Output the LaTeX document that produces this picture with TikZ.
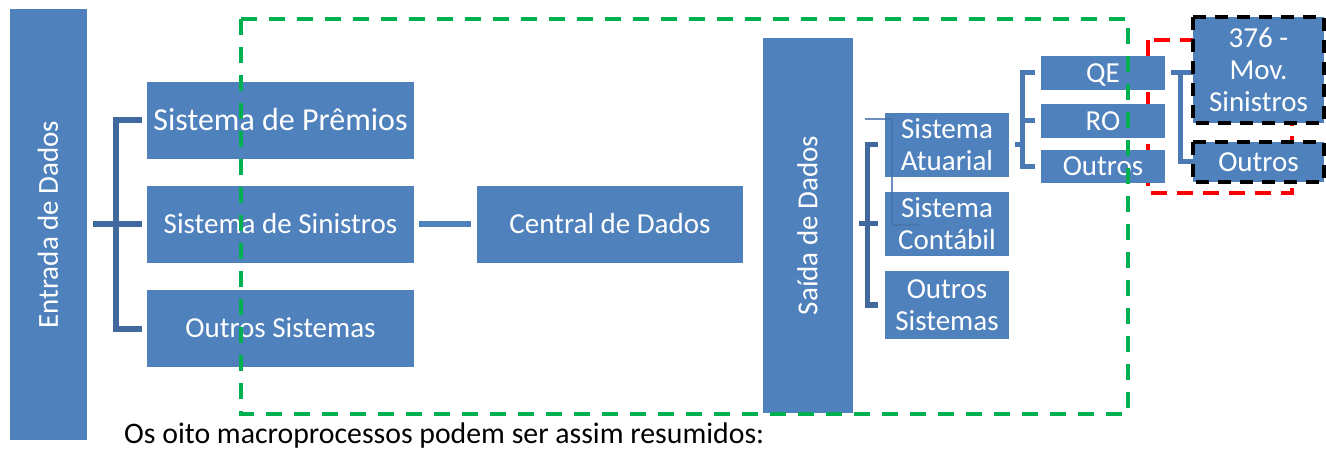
\documentclass[tikz,border=0pt]{standalone}
\usepackage{fontspec}
\setmainfont{Carlito}
\usetikzlibrary{calc}
\definecolor{boxblue}{HTML}{4F81BD}
\definecolor{brkdark}{HTML}{41699D}
\definecolor{brkmid}{HTML}{4A79B3}
\definecolor{grn}{HTML}{00B050}
\begin{document}
\begin{tikzpicture}[x=1pt,y=-1pt,
  box/.style={fill=boxblue, draw=none, text=white, inner sep=0pt, align=center,
    font=\fontsize{29}{32}\selectfont},
  one/.style={text height=18.7pt, text depth=0pt},
  brk/.style={draw=brkdark, line width=6pt},
  brkb/.style={draw=brkdark, line width=5pt},
  brkc/.style={draw=brkmid, line width=5pt},
  lnk/.style={draw=boxblue, line width=6pt},
  thinlnk/.style={draw=boxblue!90!black, line width=2pt, opacity=0.8},
  grndash/.style={draw=grn, line width=4pt, dash pattern=on 16pt off 12pt},
  reddash/.style={draw=red, line width=3.5pt, dash pattern=on 16pt off 10pt},
  blkdash/.style={draw=black, line width=4.5pt, dash pattern=on 13pt off 9pt}]
\useasboundingbox (0,0) rectangle (1326,449);

% red dashed frame (behind boxes)
\draw[reddash] (1148,40) rectangle (1292,193);

% boxes
\node[box, one, rotate=90, minimum width=431, minimum height=77] (entrada) at (48.5,224.5) {Entrada de Dados};
\node[box, minimum width=267, minimum height=77, font=\fontsize{32}{35}\selectfont, text height=20.6pt, text depth=0pt] (premios) at (280.5,120.5) {Sistema de Prêmios};
\node[box, one, minimum width=267, minimum height=77] (sinistros) at (280.5,224.5) {Sistema de Sinistros};
\node[box, one, minimum width=267, minimum height=77] (outros1) at (280.5,328.5) {Outros Sistemas};
\node[box, one, minimum width=266, minimum height=77] (central) at (610,224.5) {Central de Dados};
\node[box, one, rotate=90, minimum width=375, minimum height=90] (saida) at (808,225.5) {Saída de Dados};
\node[box, minimum width=124, minimum height=64] (atuarial) at (947,145) {Sistema\\Atuarial};
\node[box, minimum width=124, minimum height=64] (contabil) at (947,224) {Sistema\\Contábil};
\node[box, minimum width=124, minimum height=68] (outros2) at (947,305) {Outros\\Sistemas};
\node[box, one, minimum width=124, minimum height=34] (qe) at (1103,73) {QE};
\node[box, one, minimum width=124, minimum height=34] (ro) at (1103,121) {RO};
\node[box, one, minimum width=124, minimum height=33] (outrosm) at (1103,166.5) {Outros};
\node[box, minimum width=131, minimum height=106] (m376) at (1258.5,70) {376 -\\Mov.\\Sinistros};
\node[box, one, minimum width=131, minimum height=40] (outrosr) at (1258.5,162) {Outros};

% left bracket
\draw[brk] ($(entrada.center)+(44.5,0)$) -- ($(sinistros.west)+(-5,0)$);
\draw[brk] ($(premios.west)+(-5,0)$) -- ($(premios.west)+(-31,0)$) -- ($(outros1.west)+(-31,0)$) -- ($(outros1.west)+(-5,0)$);

% sinistros -> central
\draw[lnk] ($(sinistros.east)+(5,0)$) -- ($(central.west)+(-6,0)$);

% saida bracket
\draw[brkb] ($(contabil.west)+(-26,0)$) -- ($(contabil.west)+(-7,0)$);
\draw[brkb] ($(atuarial.west)+(-7,0)$) -- ($(atuarial.west)+(-17,0)$) -- ($(outros2.west)+(-17,0)$) -- ($(outros2.west)+(-7,0)$);

% thin connector
\coordinate (t1) at (865,119);
\coordinate (t2) at (892,225);
\coordinate (t3) at (919,225);
\draw[thinlnk] (t1) -| (t2) -- (t3);

% atuarial bracket
\draw[brkc] ($(atuarial.east)+(6,0)$) -- ($(atuarial.east)+(14,0)$);
\draw[brkc] ($(qe.west)+(-6,0)$) -- ($(qe.west)+(-18,0)$) -- ($(outrosm.west)+(-18,0)$) -- ($(outrosm.west)+(-6,0)$);
\draw[brkc] ($(ro.west)+(-18,0)$) -- ($(ro.west)+(-6,0)$);

% qe bracket
\draw[brkc] ($(qe.east)+(6,0)$) -- (m376.west |- qe.east);
\draw[brkc] ($(qe.east)+(15,0)$) |- (outrosr.west);

% black dashed borders
\draw[blkdash] (m376.north west) rectangle (m376.south east);
\draw[blkdash] (outrosr.north west) rectangle (outrosr.south east);

% green dashed frame (on top)
\draw[grndash] (241,19) rectangle (1128,414);

% caption
\node[anchor=base west, inner sep=0pt, font=\fontsize{29.8}{33}\selectfont] (caption) at (124,443) {Os oito macroprocessos podem ser assim resumidos:};
\end{tikzpicture}
\end{document}
